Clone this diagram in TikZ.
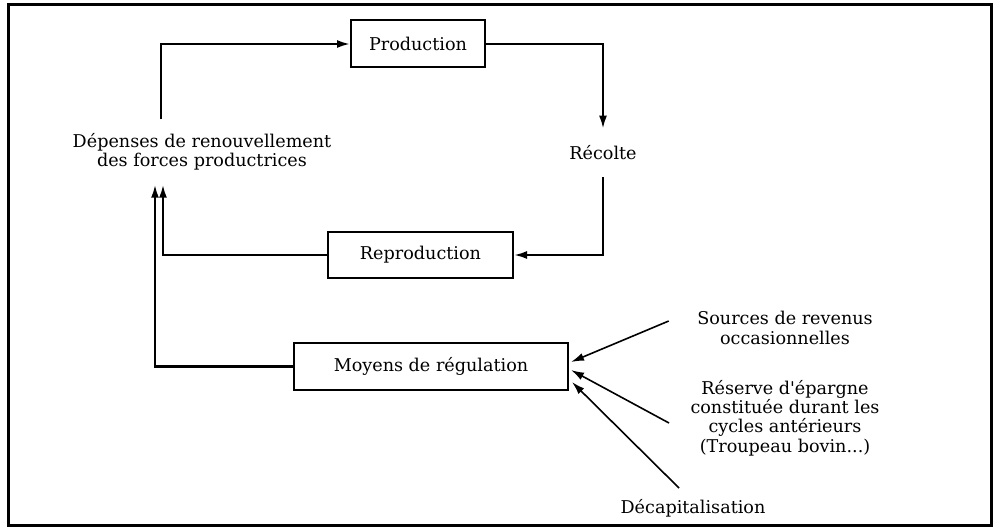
\documentclass[tikz,border=0pt]{standalone}
\usepackage{fontspec}
\setmainfont{DejaVu Serif}[Ligatures=TeXOff]
\usetikzlibrary{arrows.meta}
\begin{document}
\begin{tikzpicture}[x=1pt,y=-1pt,
  every node/.style={font=\fontsize{17.6}{19.3}\selectfont, align=center},
  box/.style={draw, line width=2pt, minimum height=47pt, inner sep=0pt},
  conn/.style={line width=2.2pt},
  arr/.style={conn, -{Latex[length=13pt,width=8pt]}},
  slant/.style={line width=1.6pt, -{Latex[length=13pt,width=8pt]}}
]
\useasboundingbox (0,0) rectangle (993,527);
\draw[line width=3pt] (8,5) rectangle (991,525);

\node[box, minimum width=134pt] (prod) at (418,44) {Production};
\node[inner ysep=17pt] (recolte) at (603,153) {Récolte};
\node[box, minimum width=185pt, minimum height=46pt] (repro) at (420.5,255) {Reproduction};
\node[inner ysep=14pt] (dep) at (202,152) {Dépenses de renouvellement\\des forces productrices};
\node[box, minimum width=274pt] (moyens) at (431,366.5) {Moyens de régulation};
\node (sources) at (785,328) {Sources de revenus\\occasionnelles};
\node (reserve) at (785,418) {Réserve d'épargne\\constituée durant les\\cycles antérieurs\\(Troupeau bovin...)};
\node (decap) at (693,508) {Décapitalisation};

\draw[arr] ([xshift=-41pt]dep.north) |- (prod.west);
\draw[arr] (prod.east) -| (recolte.north);
\draw[arr] (recolte.south) |- (repro.east);
\draw[arr] (repro.west) -| ([xshift=-39pt]dep.south);
\draw[arr] (moyens.west) -| ([xshift=-47pt]dep.south);

\draw[slant] ([xshift=-25pt,yshift=7pt]sources.west) -- ([xshift=2pt,yshift=4.5pt]moyens.east);
\draw[slant] ([xshift=-18pt,yshift=-5pt]reserve.west) -- ([xshift=2pt,yshift=-3.5pt]moyens.east);
\draw[slant] ([xshift=-14pt,yshift=20pt]decap.center) -- ([xshift=3pt,yshift=-15.5pt]moyens.east);
\end{tikzpicture}
\end{document}
